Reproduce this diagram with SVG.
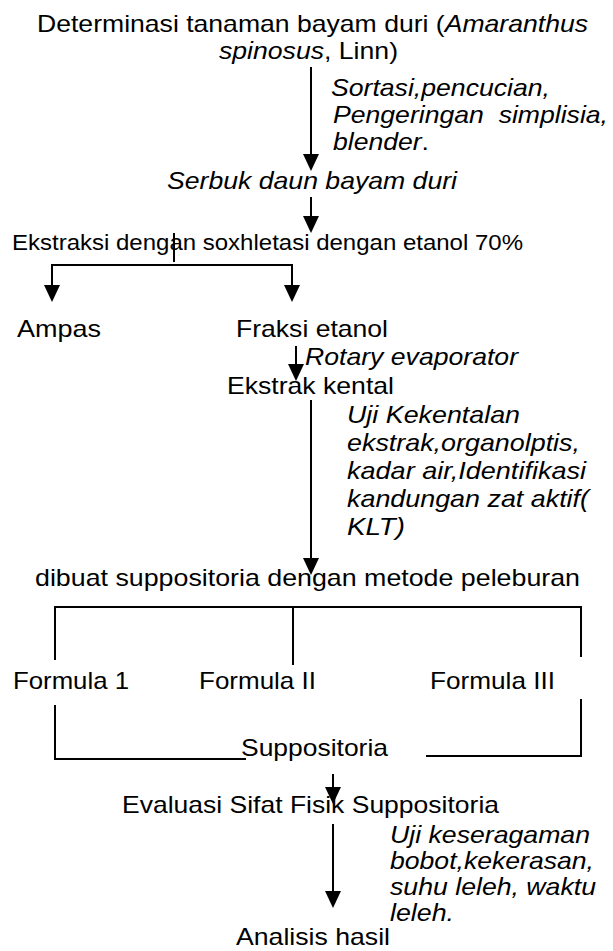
<svg xmlns="http://www.w3.org/2000/svg" width="613" height="951" viewBox="0 0 613 951">
<style>
text{font-family:"Liberation Sans",Arial,sans-serif;font-size:24px;fill:#000}
.i{font-style:italic}
.s{font-size:22px}
.ln{stroke:#000;stroke-width:2;fill:none}
</style>
<defs>
<marker id="ah" viewBox="0 0 17 16" refX="5" refY="8" markerWidth="17" markerHeight="16" markerUnits="userSpaceOnUse" orient="auto"><path d="M0,0L17,8L0,16z" fill="#000"/></marker>
</defs>
<rect width="613" height="951" fill="#fff"/>
<g id="connectors">
<line class="ln" x1="311" y1="67" x2="311" y2="159" marker-end="url(#ah)"/>
<line class="ln" x1="311" y1="197" x2="311" y2="221" marker-end="url(#ah)"/>
<line class="ln" x1="174" y1="233" x2="174" y2="262"/>
<polyline class="ln" points="52,290 52,265 292,265 292,290"/>
<line class="ln" x1="52" y1="265" x2="52" y2="290" marker-end="url(#ah)"/>
<line class="ln" x1="292" y1="265" x2="292" y2="290" marker-end="url(#ah)"/>
<line class="ln" x1="296" y1="346" x2="296" y2="369" marker-end="url(#ah)"/>
<line class="ln" x1="311" y1="400" x2="311" y2="563" marker-end="url(#ah)"/>
<polyline class="ln" points="55,660 55,607 581,607 581,657"/>
<line class="ln" x1="293" y1="607" x2="293" y2="665"/>
<polyline class="ln" points="55,705 55,759 246,759"/>
<polyline class="ln" points="426,756 581,756 581,699"/>
<line class="ln" x1="333" y1="774" x2="333" y2="792" marker-end="url(#ah)"/>
<line class="ln" x1="333" y1="824" x2="333" y2="896" marker-end="url(#ah)"/>
</g>
<g id="n1"><text x="37" y="32" textLength="551" lengthAdjust="spacingAndGlyphs">Determinasi tanaman bayam duri (<tspan class="i">Amaranthus</tspan></text><text x="219" y="59" textLength="179" lengthAdjust="spacingAndGlyphs"><tspan class="i">spinosus</tspan>, Linn)</text></g>
<g id="l1"><text x="331" y="96" class="i" textLength="219" lengthAdjust="spacingAndGlyphs">Sortasi,pencucian,</text><text x="333" y="123" class="i" xml:space="preserve" textLength="275" lengthAdjust="spacingAndGlyphs">Pengeringan  simplisia,</text><text x="333" y="150" textLength="96" lengthAdjust="spacingAndGlyphs"><tspan class="i">blender</tspan>.</text></g>
<g id="n2"><text x="167" y="189" class="i" textLength="290" lengthAdjust="spacingAndGlyphs">Serbuk daun bayam duri</text></g>
<g id="n3"><text x="12" y="250" class="s" textLength="511" lengthAdjust="spacingAndGlyphs">Ekstraksi dengan soxhletasi dengan etanol 70%</text></g>
<g id="n4"><text x="17" y="337" textLength="84" lengthAdjust="spacingAndGlyphs">Ampas</text></g>
<g id="n5"><text x="236" y="337" textLength="152" lengthAdjust="spacingAndGlyphs">Fraksi etanol</text></g>
<g id="l2"><text x="305" y="365" class="i" textLength="213" lengthAdjust="spacingAndGlyphs">Rotary evaporator</text></g>
<g id="n6"><text x="227" y="394" textLength="167" lengthAdjust="spacingAndGlyphs">Ekstrak kental</text></g>
<g id="l3"><text x="347" y="423" class="i" textLength="173" lengthAdjust="spacingAndGlyphs">Uji Kekentalan</text><text x="347" y="451" class="i" textLength="233" lengthAdjust="spacingAndGlyphs">ekstrak,organolptis,</text><text x="347" y="479" class="i" textLength="239" lengthAdjust="spacingAndGlyphs">kadar air,Identifikasi</text><text x="347" y="507" class="i" textLength="242" lengthAdjust="spacingAndGlyphs">kandungan zat aktif(</text><text x="347" y="535" class="i" textLength="58" lengthAdjust="spacingAndGlyphs">KLT)</text></g>
<g id="n7"><text x="35" y="586" textLength="545" lengthAdjust="spacingAndGlyphs">dibuat suppositoria dengan metode peleburan</text></g>
<g id="n8"><text x="13" y="689" textLength="116" lengthAdjust="spacingAndGlyphs">Formula 1</text></g>
<g id="n9"><text x="199" y="689" textLength="117" lengthAdjust="spacingAndGlyphs">Formula II</text></g>
<g id="n10"><text x="430" y="689" textLength="125" lengthAdjust="spacingAndGlyphs">Formula III</text></g>
<g id="n11"><text x="241" y="756" textLength="147" lengthAdjust="spacingAndGlyphs">Suppositoria</text></g>
<g id="n12"><text x="122" y="813" textLength="377" lengthAdjust="spacingAndGlyphs">Evaluasi Sifat Fisik Suppositoria</text></g>
<g id="l4"><text x="390" y="843" class="i" textLength="200" lengthAdjust="spacingAndGlyphs">Uji keseragaman</text><text x="390" y="869" class="i" textLength="204" lengthAdjust="spacingAndGlyphs">bobot,kekerasan,</text><text x="390" y="895" class="i" textLength="206" lengthAdjust="spacingAndGlyphs">suhu leleh, waktu</text><text x="390" y="921" class="i" textLength="64" lengthAdjust="spacingAndGlyphs">leleh.</text></g>
<g id="n13"><text x="236" y="945" textLength="154" lengthAdjust="spacingAndGlyphs">Analisis hasil</text></g>
</svg>
